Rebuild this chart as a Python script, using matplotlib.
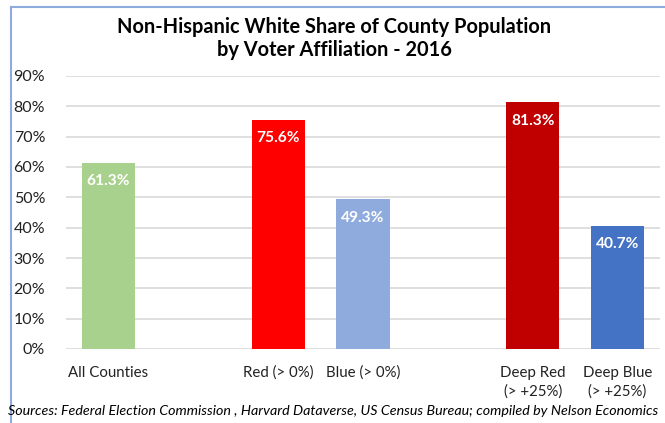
import matplotlib
matplotlib.use("Agg")
import matplotlib.pyplot as plt
from matplotlib.lines import Line2D

plt.rcParams['font.family'] = ['Lato', 'DejaVu Sans']

categories = ["All Counties", "", "Red (> 0%)", "Blue (> 0%)", "", "Deep Red\n(> +25%)", "Deep Blue\n(> +25%)"]
values = [0.613, None, 0.756, 0.493, None, 0.813, 0.407]
colors = ["#a9d18e", None, "#ff0000", "#8faadc", None, "#c00000", "#4472c4"]
yticks = [0.0, 0.1, 0.2, 0.3, 0.4, 0.5, 0.6, 0.7, 0.8, 0.9]

W, H = 665, 423
fig = plt.figure(figsize=(W / 100, H / 100), dpi=100)

# axes box in pixel terms
left, right, bottom, top = 66, 660, 349, 76
ax = fig.add_axes([left / W, 1 - bottom / H, (right - left) / W, (bottom - top) / H])

xs = list(range(len(categories)))
for x, v, c in zip(xs, values, colors):
    if v is None:
        continue
    ax.bar(x, v, width=0.625, color=c, zorder=3)
    ax.text(x, v - 0.060, f"{v * 100:.1f}%", ha="center", va="center",
            color="white", fontsize=11.2, fontweight="bold", zorder=4)

ax.set_xlim(-0.5, len(categories) - 0.5)
ax.set_ylim(0, 0.9)
ax.set_yticks(yticks)
ax.set_yticklabels([f"{int(round(t * 100))}%" for t in yticks], fontsize=11.5, color="#222222")
ax.set_xticks(xs)
ax.set_xticklabels(categories, fontsize=10.8, color="#222222", linespacing=1.45, va="top")
ax.tick_params(axis="both", length=0)
ax.tick_params(axis="x", pad=12)
ax.tick_params(axis="y", pad=15)
ax.yaxis.grid(True, color="#d9d9d9", linewidth=1.2, zorder=0)
for s in ax.spines.values():
    s.set_visible(False)
for lab in ax.get_yticklabels():
    lab.set_ha("right")

fig.text(0.503, 1 - 27 / H, "Non-Hispanic White Share of County Population",
         ha="center", va="center", fontsize=14.4, fontweight="bold", color="black")
fig.text(0.503, 1 - 50 / H, "by Voter Affiliation - 2016",
         ha="center", va="center", fontsize=14.4, fontweight="bold", color="black")

fig.text(333 / W, 1 - 411 / H,
         "Sources: Federal Election Commission , Harvard Dataverse, US Census Bureau; compiled by Nelson Economics",
         ha="center", va="center", fontsize=10.3, style="italic", color="black")

# chart frame edges
fig.add_artist(Line2D([10.5 / W, 10.5 / W], [0, 1 - 7.5 / H], transform=fig.transFigure,
                      color="#8faadc", linewidth=1.5))
fig.add_artist(Line2D([10.5 / W, 1], [1 - 7.5 / H, 1 - 7.5 / H], transform=fig.transFigure,
                      color="#8faadc", linewidth=1.5))

fig.savefig("out.png", dpi=100)
